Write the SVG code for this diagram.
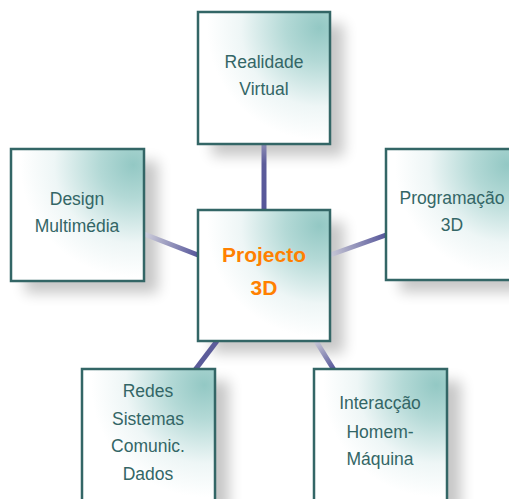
<svg xmlns="http://www.w3.org/2000/svg" width="509" height="499" viewBox="0 0 509 499">
<defs>
<radialGradient id="fill" cx="0.92" cy="0.12" r="0.85">
<stop offset="0" stop-color="#93c8c4"/>
<stop offset="0.3" stop-color="#b3d9d6"/>
<stop offset="0.7" stop-color="#eef6f6"/>
<stop offset="1" stop-color="#ffffff"/>
</radialGradient>
<filter id="sh" x="-30%" y="-30%" width="160%" height="160%">
<feGaussianBlur stdDeviation="7"/>
</filter>
<linearGradient id="gL" gradientUnits="userSpaceOnUse" x1="144" y1="234" x2="198" y2="255">
<stop offset="0" stop-color="#d0d0dc"/><stop offset="1" stop-color="#56569a"/>
</linearGradient>
<linearGradient id="gR" gradientUnits="userSpaceOnUse" x1="330" y1="255" x2="386" y2="235">
<stop offset="0" stop-color="#c8c8d6"/><stop offset="1" stop-color="#56569a"/>
</linearGradient>
<linearGradient id="gBR" gradientUnits="userSpaceOnUse" x1="316" y1="341" x2="334" y2="369">
<stop offset="0" stop-color="#c8c8d6"/><stop offset="1" stop-color="#56569a"/>
</linearGradient>
<linearGradient id="gT" gradientUnits="userSpaceOnUse" x1="264" y1="144" x2="264" y2="210">
<stop offset="0" stop-color="#8a8ab4"/><stop offset="0.3" stop-color="#5c5c9a"/><stop offset="1" stop-color="#56569a"/>
</linearGradient>
</defs>
<style>
.shadow{fill:#000;opacity:0.22;filter:url(#sh)}
.box{fill:url(#fill);stroke:#336666;stroke-width:2.5}
.t{font-family:"Liberation Sans",Arial,sans-serif;font-size:17.5px;fill:#336666;text-anchor:middle}
.c{font-family:"Liberation Sans",Arial,sans-serif;font-size:21px;font-weight:bold;fill:#ff8000;text-anchor:middle}
.ln{stroke-width:5;fill:none}
</style>
<g id="shadows">
<rect class="shadow" x="212" y="24" width="132" height="132"/>
<rect class="shadow" x="25" y="161" width="133" height="132"/>
<rect class="shadow" x="400" y="161" width="132" height="131"/>
<rect class="shadow" x="212" y="222" width="132" height="131"/>
<rect class="shadow" x="96" y="381" width="133" height="132"/>
<rect class="shadow" x="328" y="381" width="133" height="132"/>
</g>
<g id="connectors">
<line class="ln" x1="264" y1="144" x2="264" y2="210" stroke="url(#gT)"/>
<line class="ln" x1="144" y1="234" x2="198" y2="255" stroke="url(#gL)"/>
<line class="ln" x1="330" y1="255" x2="386" y2="235" stroke="url(#gR)"/>
<line class="ln" x1="217" y1="341" x2="195" y2="370" stroke="#5c5c9a"/>
<line class="ln" x1="316" y1="341" x2="334" y2="370" stroke="url(#gBR)"/>
</g>
<g id="realidade">
<rect class="box" x="198" y="12" width="132" height="132"/>
<text class="t" x="264" y="68">Realidade</text>
<text class="t" x="264" y="95">Virtual</text>
</g>
<g id="design">
<rect class="box" x="11" y="149" width="133" height="132"/>
<text class="t" x="77" y="205">Design</text>
<text class="t" x="77" y="232">Multimédia</text>
</g>
<g id="programacao">
<rect class="box" x="386" y="149" width="132" height="131"/>
<text class="t" x="452" y="204">Programação</text>
<text class="t" x="452" y="231">3D</text>
</g>
<g id="projecto">
<rect class="box" x="198" y="210" width="132" height="131"/>
<text class="c" x="264" y="262">Projecto</text>
<text class="c" x="264" y="295">3D</text>
</g>
<g id="redes">
<rect class="box" x="82" y="369" width="133" height="132"/>
<text class="t" x="148" y="397">Redes</text>
<text class="t" x="148" y="425">Sistemas</text>
<text class="t" x="148" y="452">Comunic.</text>
<text class="t" x="148" y="480">Dados</text>
</g>
<g id="interaccao">
<rect class="box" x="314" y="369" width="133" height="132"/>
<text class="t" x="380" y="409">Interacção</text>
<text class="t" x="380" y="438">Homem-</text>
<text class="t" x="380" y="465">Máquina</text>
</g>
</svg>
